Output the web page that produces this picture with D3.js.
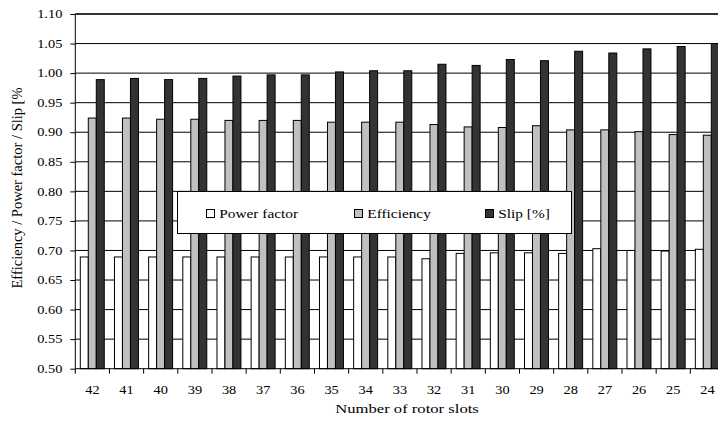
<!DOCTYPE html>
<html>
<head>
<meta charset="utf-8">
<script src="https://cdn.jsdelivr.net/npm/d3@7"></script>
<style>
  html, body { margin: 0; padding: 0; background: #fff; }
  svg { display: block; font-family: "Liberation Serif", "Times New Roman", serif; }
</style>
</head>
<body>
<svg id="chart" width="718" height="423"></svg>
<script>
// ---- data ----
const categories = ["42","41","40","39","38","37","36","35","34","33","32","31","30","29","28","27","26","25","24"];
const powerFactor = [0.689,0.689,0.689,0.689,0.689,0.689,0.689,0.689,0.689,0.689,0.686,0.695,0.696,0.696,0.695,0.703,0.700,0.699,0.702];
const efficiency  = [0.924,0.924,0.922,0.922,0.920,0.920,0.920,0.917,0.917,0.917,0.913,0.909,0.908,0.911,0.904,0.904,0.901,0.896,0.895];
const slip        = [0.989,0.991,0.989,0.991,0.995,0.997,0.997,1.002,1.004,1.004,1.015,1.013,1.023,1.021,1.037,1.034,1.041,1.045,1.050];
const seriesNames = ["Power factor","Efficiency","Slip [%]"];
const seriesColors = ["#ffffff","#c0c0c0","#333333"];
const yTicks = [0.50,0.55,0.60,0.65,0.70,0.75,0.80,0.85,0.90,0.95,1.00,1.05,1.10];
const xTitle = "Number of rotor slots";
const yTitle = "Efficiency / Power factor / Slip [%";

const seriesValues = [powerFactor, efficiency, slip];

(function () {
// ---- layout ----
const pL = 75.3, pR = 724.5, pT = 14, pB = 368.7;
const svg = d3.select("#chart");

const x0 = d3.scaleBand().domain(categories).range([pL, pR]).padding(0);
const bw = x0.bandwidth();
const x1 = d3.scaleBand().domain(seriesNames).range([5, bw - 5.2]).padding(0);
const y = d3.scaleLinear().domain([0.5, 1.1]).range([pB, pT]);

// gridlines
svg.append("g").selectAll("line")
  .data(yTicks.filter(t => t > 0.5 && t < 1.1))
  .join("line")
  .attr("x1", pL).attr("x2", 718)
  .attr("y1", d => y(d)).attr("y2", d => y(d))
  .attr("stroke", "#000").attr("stroke-width", 1);

// top border line (thicker)
svg.append("line")
  .attr("x1", pL).attr("x2", 718)
  .attr("y1", y(1.1)).attr("y2", y(1.1))
  .attr("stroke", "#333").attr("stroke-width", 2);

// bars
const groups = svg.append("g").selectAll("g")
  .data(categories)
  .join("g")
  .attr("transform", d => `translate(${x0(d)},0)`);

groups.selectAll("rect")
  .data((c, i) => seriesNames.map((s, k) => ({ s, k, v: seriesValues[k][i] })))
  .join("rect")
  .attr("x", d => x1(d.s))
  .attr("width", x1.bandwidth())
  .attr("y", d => y(d.v))
  .attr("height", d => y(0.5) - y(d.v))
  .attr("fill", d => seriesColors[d.k])
  .attr("stroke", "#000")
  .attr("stroke-width", 1);

// left axis
const yAxis = d3.axisLeft(y).tickValues(yTicks).tickFormat(d3.format(".2f")).tickSize(5).tickPadding(5.4);
const gy = svg.append("g").attr("transform", `translate(${pL},0)`).call(yAxis);
gy.select(".domain").attr("stroke", "#000").attr("d", `M0,${pT}V${pB}`);
gy.selectAll(".tick line").attr("stroke", "#000");
gy.selectAll(".tick text")
  .attr("fill", "#000")
  .style("font-family", "'Liberation Serif', serif")
  .style("font-size", "11.5px")
  .attr("transform", "scale(1.25,1)");

// bottom axis: labels centered, ticks on boundaries
const xAxis = d3.axisBottom(x0).tickSize(0).tickPadding(0);
const gx = svg.append("g").attr("transform", `translate(0,${pB})`).call(xAxis);
gx.select(".domain").attr("stroke", "#000").attr("d", `M${pL},0H718`);
gx.selectAll(".tick text")
  .attr("fill", "#000")
  .attr("y", 25.3).attr("dy", null)
  .style("font-family", "'Liberation Serif', serif")
  .style("font-size", "11.5px")
  .attr("transform", "scale(1.25,1)")
  .attr("x", 0);
svg.append("g").selectAll("line")
  .data(categories.concat(["__end"]))
  .join("line")
  .attr("x1", (d, i) => pL + i * bw).attr("x2", (d, i) => pL + i * bw)
  .attr("y1", pB).attr("y2", pB + 5)
  .attr("stroke", "#000");

// axis titles
svg.append("text")
  .attr("transform", `translate(407,413) scale(1.28,1)`)
  .attr("text-anchor", "middle")
  .style("font-size", "13px")
  .attr("fill", "#000")
  .text(xTitle);

svg.append("text")
  .attr("transform", `translate(22,188) rotate(-90)`)
  .attr("text-anchor", "middle")
  .style("font-size", "14.5px")
  .attr("fill", "#000")
  .text(yTitle);

// legend
const lg = svg.append("g");
lg.append("rect")
  .attr("x", 177.5).attr("y", 191.5).attr("width", 394).attr("height", 42)
  .attr("fill", "#fff").attr("stroke", "#000");
const legendX = [206, 354, 485];
seriesNames.forEach((s, k) => {
  lg.append("rect")
    .attr("x", legendX[k] + 0.5).attr("y", 209.5).attr("width", 8).attr("height", 8)
    .attr("fill", seriesColors[k]).attr("stroke", "#000");
  lg.append("text")
    .attr("transform", `translate(${legendX[k] + 13.3},217.5) scale(1.18,1)`)
    .style("font-size", "13px")
    .attr("fill", "#000")
    .text(s);
});
})();
</script>
</body>
</html>
